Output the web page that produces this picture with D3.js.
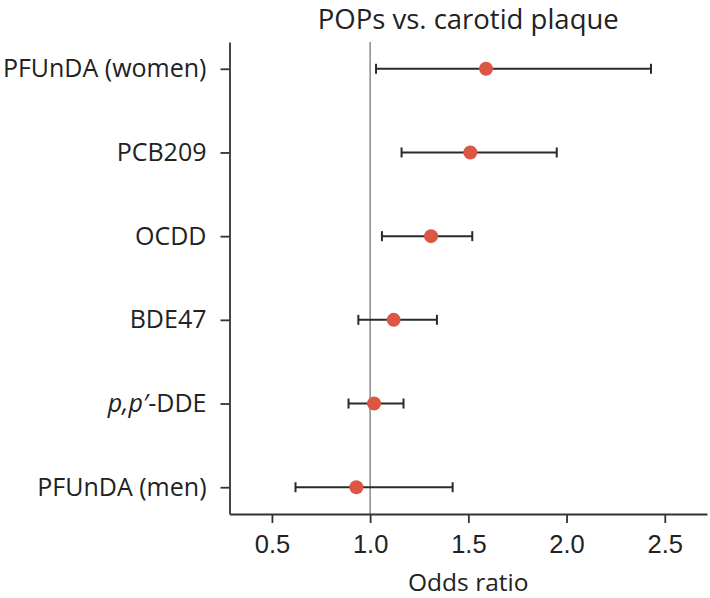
<!DOCTYPE html>
<html>
<head>
<meta charset="utf-8">
<script src="https://cdn.jsdelivr.net/npm/d3@7"></script>
<style>
  body { margin: 0; background: #fff; }
  svg { display: block; }
</style>
</head>
<body>
<svg id="chart" width="710" height="598"></svg>
<script>
// ---- Data ----
const categories = ["PFUnDA (women)", "PCB209", "OCDD", "BDE47", "p,p′-DDE", "PFUnDA (men)"];
const oddsRatio  = [1.59, 1.51, 1.31, 1.12, 1.02, 0.93];
const ciLower    = [1.03, 1.16, 1.06, 0.94, 0.89, 0.62];
const ciUpper    = [2.43, 1.95, 1.52, 1.34, 1.17, 1.42];
const xTicks     = [0.5, 1.0, 1.5, 2.0, 2.5];
const chartTitle = "POPs vs. carotid plaque";
const xTitle     = "Odds ratio";

const rows = categories.map((c, i) => ({ name: c, or: oddsRatio[i], lo: ciLower[i], hi: ciUpper[i] }));

// ---- Layout ----
const plotLeft = 229.5, plotRight = 707, plotTop = 42, plotBottom = 514;
const svg = d3.select("#chart");

const x = d3.scaleLinear().domain([0.284, 2.715]).range([plotLeft, plotRight]);
const y = d3.scalePoint().domain(categories).range([plotTop, plotBottom]).padding(0.32);

const textColor = "#222";
const labelFont = "'Open Sans', 'Noto Sans', sans-serif";
const tickFont = "'Liberation Sans', Arial, sans-serif";

// Reference line at OR = 1
svg.append("line")
  .attr("x1", x(1)).attr("x2", x(1))
  .attr("y1", plotTop).attr("y2", plotBottom)
  .attr("stroke", "#8a8a8a").attr("stroke-width", 1.5);

// X axis
const gx = svg.append("g")
  .attr("transform", `translate(0,${plotBottom})`)
  .call(d3.axisBottom(x).tickValues(xTicks).tickFormat(d3.format(".1f"))
        .tickSize(9).tickSizeOuter(0).tickPadding(12));
gx.select(".domain").attr("stroke", "#333").attr("stroke-width", 1.8);
gx.selectAll(".tick line").attr("stroke", "#333").attr("stroke-width", 1.8);
gx.selectAll(".tick text").attr("font-family", tickFont).attr("font-size", 25.5).attr("fill", textColor);

// Y axis
const gy = svg.append("g")
  .attr("transform", `translate(${plotLeft},0)`)
  .call(d3.axisLeft(y).tickSize(9).tickSizeOuter(0).tickPadding(14));
gy.select(".domain").attr("stroke", "#333").attr("stroke-width", 1.8);
gy.selectAll(".tick line").attr("stroke", "#333").attr("stroke-width", 1.8);
gy.selectAll(".tick text")
  .attr("font-family", labelFont).attr("font-size", 25).attr("fill", textColor)
  .each(function(d) {
    if (d.startsWith("p,p′")) {
      const t = d3.select(this);
      t.text(null);
      t.append("tspan").attr("font-style", "italic").text("p,p′");
      t.append("tspan").text(d.slice(4));
    }
  });

// Error bars
const capH = 5;
const eb = svg.append("g").attr("stroke", "#2a2a2a").attr("stroke-width", 2);
rows.forEach(r => {
  const yy = y(r.name);
  eb.append("line").attr("x1", x(r.lo)).attr("x2", x(r.hi)).attr("y1", yy).attr("y2", yy);
  eb.append("line").attr("x1", x(r.lo)).attr("x2", x(r.lo)).attr("y1", yy - capH).attr("y2", yy + capH);
  eb.append("line").attr("x1", x(r.hi)).attr("x2", x(r.hi)).attr("y1", yy - capH).attr("y2", yy + capH);
});

// Points
svg.append("g").selectAll("circle").data(rows).join("circle")
  .attr("cx", d => x(d.or)).attr("cy", d => y(d.name))
  .attr("r", 7).attr("fill", "#dc5644");

// Titles
svg.append("text")
  .attr("x", (plotLeft + plotRight) / 2).attr("y", 28.5)
  .attr("text-anchor", "middle")
  .attr("font-family", labelFont).attr("font-size", 27.5).attr("fill", textColor)
  .text(chartTitle);

svg.append("text")
  .attr("x", (plotLeft + plotRight) / 2).attr("y", 591)
  .attr("text-anchor", "middle")
  .attr("font-family", labelFont).attr("font-size", 24.5).attr("fill", textColor)
  .text(xTitle);
</script>
</body>
</html>
